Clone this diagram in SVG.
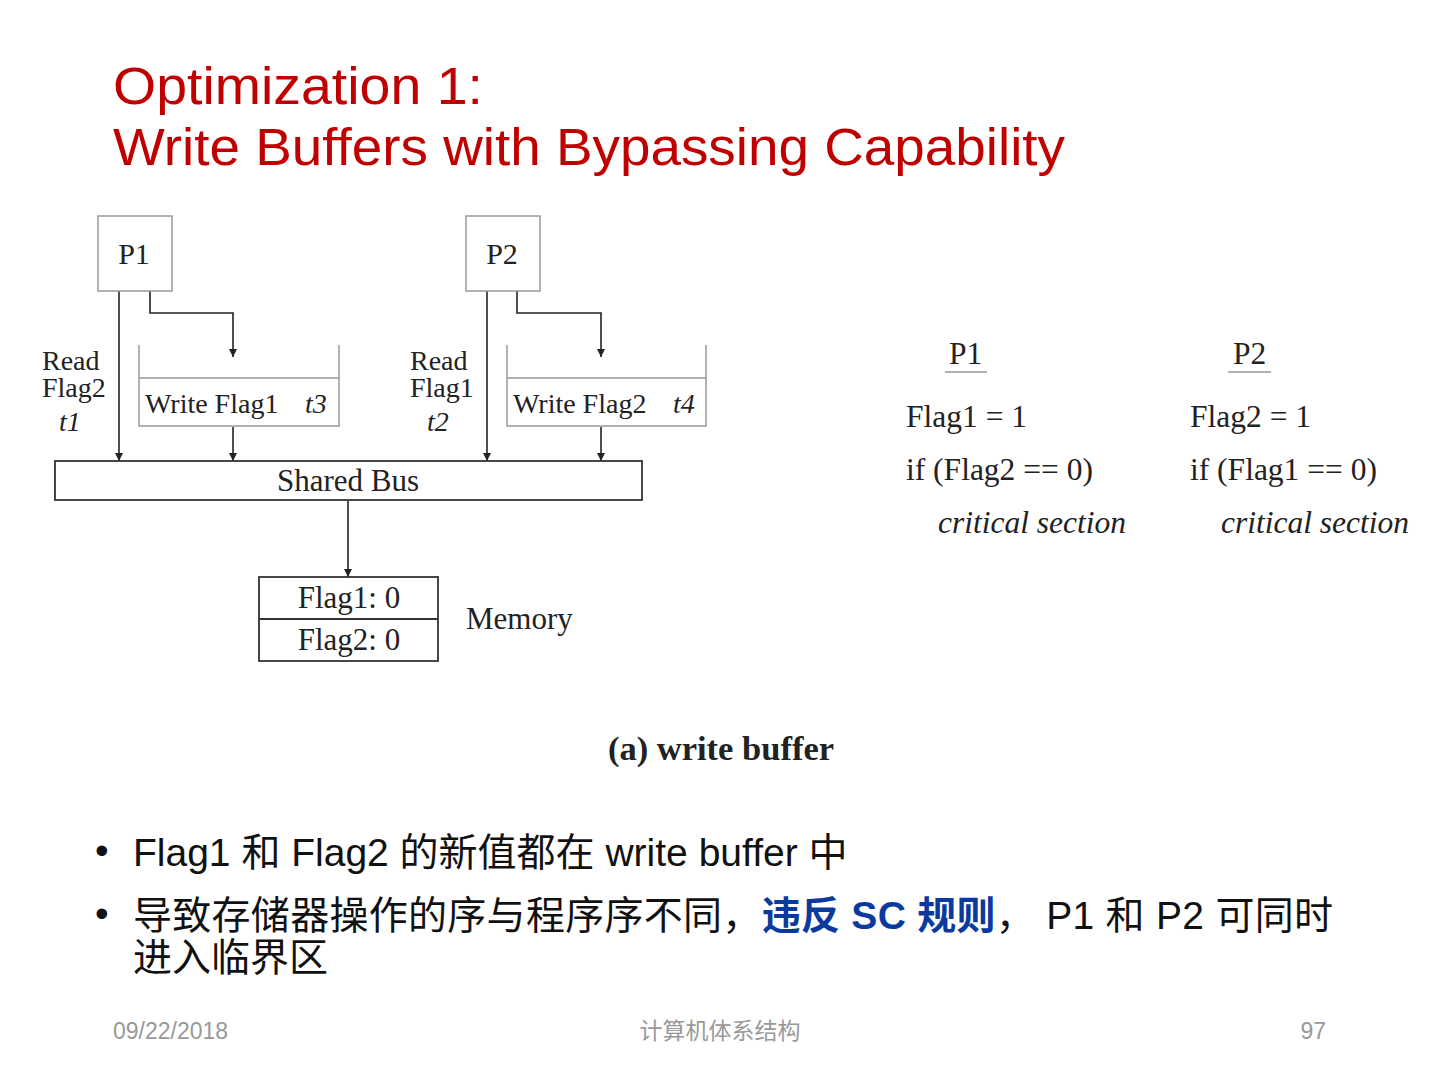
<svg xmlns="http://www.w3.org/2000/svg" width="1440" height="1080" viewBox="0 0 1440 1080">
<defs>
<marker id="ah" viewBox="0 0 10 10" refX="10" refY="5" markerWidth="8" markerHeight="13" markerUnits="userSpaceOnUse" orient="auto">
<path d="M0,0 L10,5 L0,10 z" fill="#222"/>
</marker>
<style>
.t{font-family:"Liberation Serif","Times New Roman",serif;fill:#222;font-size:28px}
.m{font-size:31px}
.k{font-size:31.5px}
.p{font-size:30px}
.cap{font-size:34.5px;font-weight:bold}
.i{font-style:italic}
.box{fill:#fff;stroke:#999;stroke-width:1.5}
.dk{fill:#fff;stroke:#333;stroke-width:1.8}
.ln{fill:none;stroke:#999;stroke-width:1.5}
.c{fill:none;stroke:#222;stroke-width:1.6}
.title{font-family:"Liberation Sans",Arial,sans-serif;fill:#C00000;font-size:51px}
.b{font-family:"Liberation Sans","Noto Sans CJK SC",sans-serif;font-size:39px;fill:#111}
.f{font-family:"Liberation Sans","Noto Sans CJK SC",sans-serif;font-size:23px;fill:#999}
</style>
</defs>
<rect width="1440" height="1080" fill="#fff"/>
<text class="title" x="113" y="104" textLength="370" lengthAdjust="spacingAndGlyphs">Optimization 1:</text>
<text class="title" x="113" y="165" textLength="952" lengthAdjust="spacingAndGlyphs">Write Buffers with Bypassing Capability</text>

<g id="connectors">
<line class="c" x1="119" y1="291" x2="119" y2="461" marker-end="url(#ah)"/>
<polyline class="c" points="150,291 150,313 233,313 233,357" marker-end="url(#ah)"/>
<line class="c" x1="233" y1="427" x2="233" y2="461" marker-end="url(#ah)"/>
<line class="c" x1="487" y1="291" x2="487" y2="461" marker-end="url(#ah)"/>
<polyline class="c" points="517,291 517,313 601,313 601,357" marker-end="url(#ah)"/>
<line class="c" x1="601" y1="427" x2="601" y2="461" marker-end="url(#ah)"/>
<line class="c" x1="348" y1="501" x2="348" y2="577" marker-end="url(#ah)"/>
</g>

<g id="p1">
<rect class="box" x="98" y="216" width="74" height="75"/>
<text class="t p" x="134" y="264" text-anchor="middle">P1</text>
</g>
<g id="p2">
<rect class="box" x="466" y="216" width="74" height="75"/>
<text class="t p" x="502" y="264" text-anchor="middle">P2</text>
</g>
<g id="read-flag2">
<text class="t" x="42" y="370">Read<tspan x="42" y="397">Flag2</tspan><tspan class="i" x="59" y="431">t1</tspan></text>
</g>
<g id="read-flag1">
<text class="t" x="410" y="370">Read<tspan x="410" y="397">Flag1</tspan><tspan class="i" x="427" y="431">t2</tspan></text>
</g>
<g id="buffer1">
<path class="ln" d="M139,345 V426 H339 V345 M139,378 H339"/>
<text class="t" x="145" y="413">Write Flag1</text>
<text class="t i" x="305" y="413">t3</text>
</g>
<g id="buffer2">
<path class="ln" d="M507,345 V426 H706 V345 M507,378 H706"/>
<text class="t" x="513" y="413">Write Flag2</text>
<text class="t i" x="673" y="413">t4</text>
</g>
<g id="bus">
<rect class="dk" x="55" y="461" width="587" height="39"/>
<text class="t m" x="348" y="491" text-anchor="middle">Shared Bus</text>
</g>
<g id="memory">
<rect class="dk" x="259" y="577" width="179" height="84"/>
<line class="dk" x1="259" y1="619" x2="438" y2="619"/>
<text class="t m" x="349" y="608" text-anchor="middle">Flag1: 0</text>
<text class="t m" x="349" y="650" text-anchor="middle">Flag2: 0</text>
<text class="t m" x="466" y="629">Memory</text>
</g>
<text class="t cap" x="721" y="760" text-anchor="middle">(a) write buffer</text>

<g id="code-p1">
<text class="t k" x="949" y="364">P1</text>
<line class="ln" x1="945" y1="372" x2="987" y2="372"/>
<text class="t k" x="906" y="427">Flag1 = 1</text>
<text class="t k" x="906" y="480">if (Flag2 == 0)</text>
<text class="t k i" x="938" y="533">critical section</text>
</g>
<g id="code-p2">
<text class="t k" x="1233" y="364">P2</text>
<line class="ln" x1="1228" y1="372" x2="1271" y2="372"/>
<text class="t k" x="1190" y="427">Flag2 = 1</text>
<text class="t k" x="1190" y="480">if (Flag1 == 0)</text>
<text class="t k i" x="1221" y="533">critical section</text>
</g>

<g id="bullets">
<text class="b" x="95" y="864">•</text>
<text class="b" x="133" y="866">Flag1 和 Flag2 的新值都在 write buffer 中</text>
<text class="b" x="95" y="927">•</text>
<text class="b" x="133" y="929" textLength="1200">导致存储器操作的序与程序序不同，<tspan fill="#0B3A9E" font-weight="bold">违反 SC 规则</tspan>， P1 和 P2 可同时</text>
<text class="b" x="133" y="971">进入临界区</text>
</g>
<g id="footer">
<text class="f" x="113" y="1039">09/22/2018</text>
<text class="f" x="720" y="1039" text-anchor="middle">计算机体系结构</text>
<text class="f" x="1326" y="1039" text-anchor="end">97</text>
</g>
</svg>
